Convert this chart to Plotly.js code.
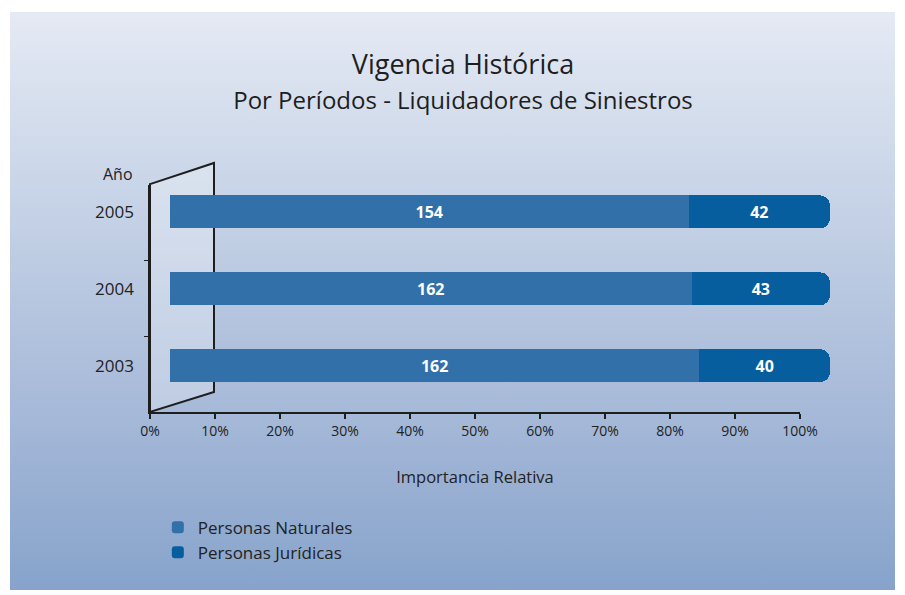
<!DOCTYPE html>
<html>
<head>
<meta charset="utf-8">
<script src="https://cdn.plot.ly/plotly-3.0.1.min.js"></script>
<style>
  html, body { margin:0; padding:0; background:#ffffff; }
  #bg { position:absolute; left:10px; top:12px; width:885px; height:578px;
        background: linear-gradient(to bottom, #e5eaf4 0%, #c9d5e8 30%, #aabcda 65%, #87a3cb 100%); }
  #chart { position:absolute; left:0; top:0; width:905px; height:595px; }
</style>
</head>
<body>
<div id="bg"></div>
<div id="chart"></div>
<script>
// ---- data ----
const years = ['2003', '2004', '2005'];
const naturales = [162, 162, 154];
const juridicas = [40, 43, 42];
const xTickVals = [0, 10, 20, 30, 40, 50, 60, 70, 80, 90, 100];
const xTickText = ['0%', '10%', '20%', '30%', '40%', '50%', '60%', '70%', '80%', '90%', '100%'];

// ---- derived shares (100% stacked) ----
const totals = naturales.map((v, i) => v + juridicas[i]);
const pctN = naturales.map((v, i) => v / totals[i] * 100);
const pctJ = juridicas.map((v, i) => v / totals[i] * 100);

const FONT = '"Open Sans", Lato, sans-serif';
const colN = '#3170a9';
const colJ = '#065e9e';
const PW = 710;             // plot width (px) of the bar subplot
const pctDomEnd = 650 / PW; // visible percent axis spans 650 px

const traceN = {
  type: 'bar', orientation: 'h', name: 'Personas Naturales',
  y: years, x: pctN,
  xaxis: 'x', yaxis: 'y',
  width: 0.43, cliponaxis: false,
  marker: { color: colN, line: { width: 0 } },
  text: naturales.map(String), textposition: 'inside', insidetextanchor: 'middle',
  textangle: 0, textfont: { color: '#ffffff', size: 16, family: FONT, weight: 'bold' },
  hoverinfo: 'skip'
};
const traceJ = {
  type: 'bar', orientation: 'h', name: 'Personas Jurídicas',
  y: years, x: pctJ,
  xaxis: 'x', yaxis: 'y',
  width: 0.43, cliponaxis: false,
  marker: { color: colJ, line: { width: 0 } },
  text: juridicas.map(String), textposition: 'inside', insidetextanchor: 'middle',
  textangle: 0, textfont: { color: '#ffffff', size: 16, family: FONT, weight: 'bold' },
  hoverinfo: 'skip'
};
// empty helper so the visible percent axis and the 3D-wall axis are drawn
const axisHelper = {
  type: 'scatter', mode: 'markers', x: [], y: [],
  xaxis: 'x2', yaxis: 'y2', showlegend: false, hoverinfo: 'skip'
};

const layout = {
  width: 905, height: 595,
  margin: { l: 150, r: 905 - 150 - PW, t: 185, b: 183 },
  paper_bgcolor: 'rgba(0,0,0,0)',
  plot_bgcolor: 'rgba(0,0,0,0)',
  font: { family: FONT, color: '#222222' },
  barmode: 'stack',
  barcornerradius: 10,
  showlegend: true,
  title: {
    text: "Vigencia Histórica<br><span style='font-size:24px'>Por Períodos - Liquidadores de Siniestros</span>",
    font: { size: 27, family: FONT, color: '#1e1e1e' },
    x: 0.5116, xanchor: 'center', xref: 'container',
    y: 0.876, yanchor: 'top', yref: 'container'
  },
  // bar scale (hidden): shifted like the 3D bars of the original
  xaxis: {
    domain: [0, 1], anchor: 'y',
    range: [-3.03, 104.545], visible: false, fixedrange: true
  },
  // visible percent axis
  xaxis2: {
    domain: [0, pctDomEnd], anchor: 'y2',
    range: [0, 100], tickvals: xTickVals, ticktext: xTickText,
    showgrid: false, zeroline: false,
    showline: true, linecolor: '#1e1e1e', linewidth: 2,
    ticks: 'outside', ticklen: 5, tickwidth: 1.5, tickcolor: '#1e1e1e',
    tickfont: { size: 14, family: FONT, color: '#222222' },
    title: { text: 'Importancia Relativa', font: { size: 16.5, family: FONT, color: '#222222' }, standoff: 33 },
    automargin: false, fixedrange: true
  },
  yaxis: {
    domain: [0, 1], anchor: 'x',
    type: 'category', range: [-0.604, 2.35],
    showgrid: false, zeroline: false, showline: false, ticks: '',
    tickfont: { size: 17, family: FONT, color: '#222222' },
    ticklabelstandoff: 15,
    automargin: false, fixedrange: true
  },
  yaxis2: {
    domain: [0, 1], anchor: 'x2',
    range: [0, 3], tickvals: [1, 2], showticklabels: false,
    showgrid: false, zeroline: false,
    showline: true, linecolor: '#1e1e1e', linewidth: 2,
    ticks: 'outside', ticklen: 4, tickwidth: 1.5, tickcolor: '#1e1e1e',
    fixedrange: true
  },
  legend: {
    x: 0.011, xanchor: 'left', y: -0.43, yanchor: 'top',
    bgcolor: 'rgba(0,0,0,0)', traceorder: 'normal',
    font: { size: 17, family: FONT, color: '#222222' },
    itemclick: false, itemdoubleclick: false
  },
  shapes: [{
    type: 'path', xref: 'paper', yref: 'paper', layer: 'below',
    path: 'M 0 1.004 L ' + (64 / PW) + ' 1.097 L ' + (64 / PW) + ' 0.088 L 0 0 Z',
    fillcolor: 'rgba(255,255,255,0.28)',
    line: { color: '#1e1e1e', width: 2 }
  }],
  annotations: [{
    text: 'Año', xref: 'paper', yref: 'paper',
    x: -32 / PW, y: 1.048, xanchor: 'center', yanchor: 'middle',
    showarrow: false, font: { size: 16, family: FONT, color: '#222222' }
  }]
};

Plotly.newPlot('chart', [traceN, traceJ, axisHelper], layout, { displayModeBar: false, staticPlot: true });
</script>
</body>
</html>
